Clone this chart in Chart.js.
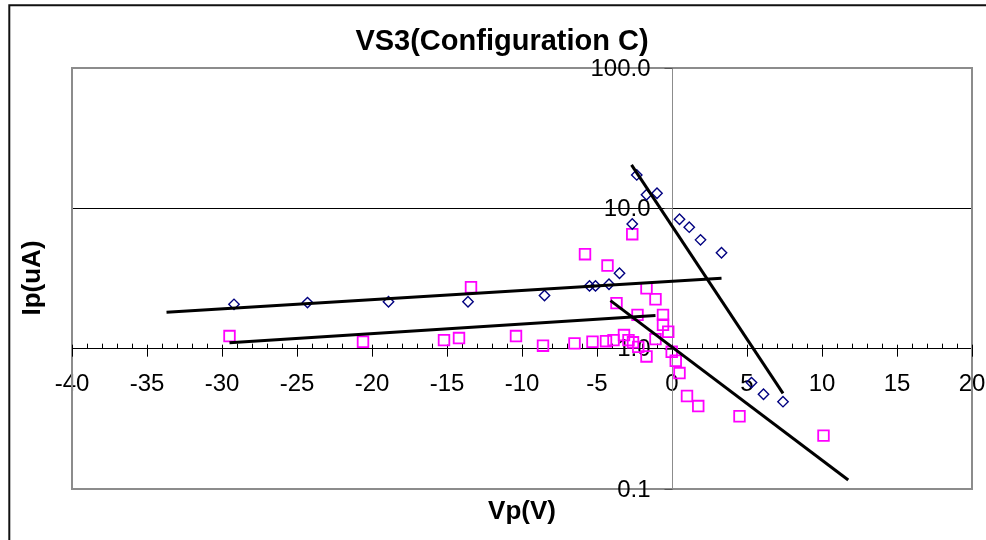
<!DOCTYPE html>
<html>
<head>
<meta charset="utf-8">
<script src="https://cdn.jsdelivr.net/npm/chart.js@4.4.0/dist/chart.umd.min.js"></script>
<style>
  html, body { margin: 0; padding: 0; background: #fff; }
  #wrap { width: 986px; height: 540px; }
</style>
</head>
<body>
<div id="wrap"><canvas id="chart" width="986" height="540"></canvas></div>
<script>
const titleText = "VS3(Configuration C)";
const xTitle = "Vp(V)";
const yTitle = "Ip(uA)";

// axis ticks
const xTicks = [-40, -35, -30, -25, -20, -15, -10, -5, 0, 5, 10, 15, 20];
const yTicks = [0.1, 1, 10, 100];

// series 1 (blue diamonds)
const blueX = [-29.2, -24.3, -18.9, -13.6, -8.5, -5.5, -5.1, -4.2, -3.5, -2.65, -2.35, -1.7, -1.0, 0.5, 1.15, 1.9, 3.3, 5.3, 6.1, 7.4];
const blueY = [2.07, 2.13, 2.16, 2.16, 2.39, 2.80, 2.80, 2.88, 3.45, 7.74, 17.3, 12.5, 12.8, 8.36, 7.34, 5.96, 4.83, 0.573, 0.473, 0.419];

// series 2 (pink squares)
const pinkX = [-29.5, -20.6, -15.2, -14.2, -13.4, -10.4, -8.6, -6.5, -5.8, -5.3, -4.4, -4.3, -3.9, -3.7, -3.2, -2.9, -2.65, -2.6, -2.3, -2.25, -1.7, -1.7, -1.1, -1.1, -0.6, -0.6, -0.25, -0.02, 0.25, 0.5, 1.0, 1.75, 4.5, 10.1];
const pinkY = [1.23, 1.12, 1.15, 1.19, 2.74, 1.23, 1.05, 1.09, 4.71, 1.12, 1.13, 3.91, 1.15, 2.11, 1.25, 1.15, 6.54, 1.11, 1.74, 1.03, 2.69, 0.88, 2.25, 1.17, 1.74, 1.48, 1.32, 0.95, 0.82, 0.67, 0.46, 0.39, 0.33, 0.24];

// trend lines (end points)
const fitBlueFlatX = [-33.7, 3.3];
const fitBlueFlatY = [1.82, 3.18];
const fitPinkFlatX = [-29.5, -1.1];
const fitPinkFlatY = [1.10, 1.72];
const fitBlueDropX = [-2.7, 7.4];
const fitBlueDropY = [20.4, 0.48];
const fitPinkDropX = [-4.1, 11.75];
const fitPinkDropY = [2.2, 0.116];

function toPoints(xs, ys) {
  return xs.map((x, i) => ({ x: x, y: ys[i] }));
}

function fitLine(xs, ys) {
  return {
    data: toPoints(xs, ys),
    showLine: true,
    borderColor: "#000000",
    borderWidth: 3,
    pointRadius: 0,
    fill: false
  };
}

function yLabel(v) {
  return Number(v).toFixed(1);
}

const FONT = "'Liberation Sans', Arial, sans-serif";

// frame, tick marks, y labels and titles
const decorPlugin = {
  id: "decor",
  beforeDraw(chart) {
    const ctx = chart.ctx;
    ctx.save();
    ctx.fillStyle = "#ffffff";
    ctx.fillRect(0, 0, chart.width, chart.height);
    ctx.strokeStyle = "#111111";
    ctx.lineWidth = 2;
    ctx.beginPath();
    ctx.moveTo(9.3, chart.height + 2);
    ctx.lineTo(9.3, 5.3);
    ctx.lineTo(chart.width + 2, 5.3);
    ctx.stroke();
    ctx.restore();
  },
  beforeDatasetsDraw(chart) {
    const ctx = chart.ctx;
    const a = chart.chartArea;
    const xs = chart.scales.x;
    const ys = chart.scales.y;
    ctx.save();
    ctx.strokeStyle = "#8c8c8c";
    ctx.lineWidth = 2;
    ctx.strokeRect(a.left, a.top, a.right - a.left, a.bottom - a.top);

    // x tick marks, major every 5, minor every 1
    const y0 = ys.getPixelForValue(1);
    ctx.strokeStyle = "#000000";
    ctx.lineWidth = 1;
    ctx.beginPath();
    for (let v = xs.min; v <= xs.max; v++) {
      const px = Math.round(xs.getPixelForValue(v)) + 0.5;
      if (xTicks.includes(v)) {
        ctx.moveTo(px, y0 - 4);
        ctx.lineTo(px, y0 + 8);
      } else {
        ctx.moveTo(px, y0 - 5);
        ctx.lineTo(px, y0);
      }
    }
    ctx.stroke();

    // y tick marks and labels, left of the x=0 axis
    const x0 = Math.round(xs.getPixelForValue(0)) + 0.5;
    ctx.strokeStyle = "#555555";
    ctx.beginPath();
    yTicks.forEach(v => {
      const py = Math.round(ys.getPixelForValue(v)) + 0.5;
      ctx.moveTo(x0 - 8, py);
      ctx.lineTo(x0, py);
    });
    ctx.stroke();
    ctx.fillStyle = "#000000";
    ctx.font = "24px " + FONT;
    ctx.textAlign = "right";
    ctx.textBaseline = "middle";
    yTicks.forEach(v => {
      ctx.fillText(yLabel(v), x0 - 22, ys.getPixelForValue(v) + 1);
    });
    ctx.restore();
  },
  afterDraw(chart) {
    const ctx = chart.ctx;
    const a = chart.chartArea;
    ctx.save();
    ctx.fillStyle = "#000000";
    ctx.textAlign = "center";
    ctx.textBaseline = "middle";
    ctx.font = "bold 29px " + FONT;
    ctx.fillText(titleText, 502, 42);
    ctx.font = "bold 26px " + FONT;
    ctx.fillText(xTitle, (a.left + a.right) / 2, 512);
    ctx.translate(33, 278);
    ctx.rotate(-Math.PI / 2);
    ctx.fillText(yTitle, 0, 0);
    ctx.restore();
  }
};

const ctx = document.getElementById("chart").getContext("2d");

new Chart(ctx, {
  type: "scatter",
  data: {
    datasets: [
      fitLine(fitBlueFlatX, fitBlueFlatY),
      fitLine(fitPinkFlatX, fitPinkFlatY),
      fitLine(fitBlueDropX, fitBlueDropY),
      fitLine(fitPinkDropX, fitPinkDropY),
      {
        data: toPoints(blueX, blueY),
        pointStyle: "rectRot",
        pointRadius: 5.2,
        borderColor: "#000080",
        backgroundColor: "rgba(255,255,255,0)",
        pointBorderWidth: 1.4
      },
      {
        data: toPoints(pinkX, pinkY),
        pointStyle: "rect",
        pointRadius: 7.5,
        borderColor: "#ff00ff",
        backgroundColor: "rgba(255,255,255,0)",
        pointBorderWidth: 1.8
      }
    ]
  },
  options: {
    responsive: false,
    animation: false,
    events: [],
    layout: { padding: { left: 72, right: 14, top: 68, bottom: 51 } },
    plugins: {
      legend: { display: false },
      title: { display: false },
      tooltip: { enabled: false }
    },
    scales: {
      x: {
        type: "linear",
        min: -40,
        max: 20,
        position: { y: 1 },
        afterBuildTicks: axis => { axis.ticks = xTicks.map(v => ({ value: v })); },
        ticks: {
          autoSkip: false,
          maxRotation: 0,
          padding: 0,
          color: "#000000",
          font: { family: FONT, size: 24, lineHeight: 3.0 }
        },
        grid: { drawOnChartArea: false, drawTicks: false },
        border: { color: "#000000", width: 1 }
      },
      y: {
        type: "logarithmic",
        min: 0.1,
        max: 100,
        position: { x: 0 },
        afterBuildTicks: axis => { axis.ticks = yTicks.map(v => ({ value: v })); },
        ticks: { display: false },
        grid: { color: "#000000", lineWidth: 1, drawTicks: false },
        border: { color: "#8c8c8c", width: 1 }
      }
    }
  },
  plugins: [decorPlugin]
});
</script>
</body>
</html>
